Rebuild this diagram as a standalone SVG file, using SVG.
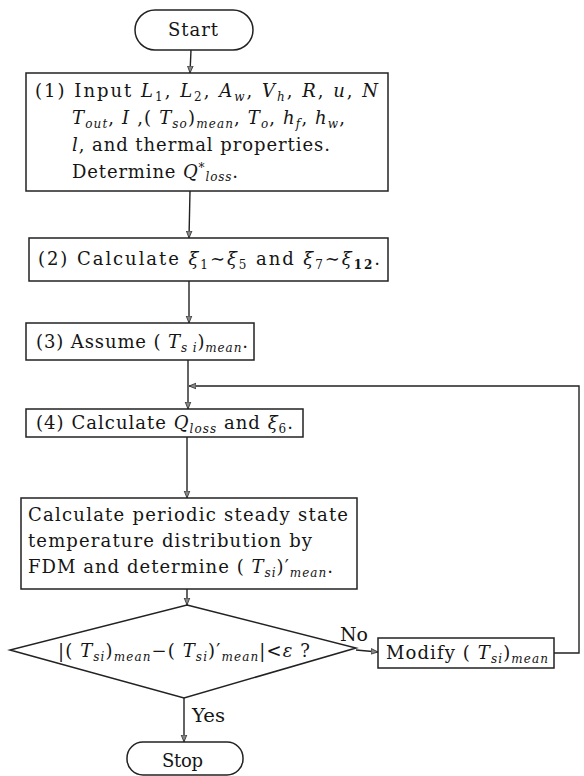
<svg xmlns="http://www.w3.org/2000/svg" width="584" height="776" viewBox="0 0 584 776" font-family="'DejaVu Serif', 'Liberation Serif', serif">
<style>
text{font-family:'DejaVu Serif','Liberation Serif',serif;font-size:18px;fill:#151515}
.i{font-style:italic}
.s{font-size:12px}
.box{fill:#fff;stroke:#222;stroke-width:1.5}
.ln{fill:none;stroke:#222;stroke-width:1.4}
</style>
<defs>
<marker id="ah" viewBox="0 0 10 10" refX="10" refY="5" markerWidth="7" markerHeight="8" orient="auto" markerUnits="userSpaceOnUse">
<path d="M0,1 L10,5 L0,9 Z" fill="#888" stroke="#333" stroke-width="1.2"/>
</marker>
</defs>
<rect width="584" height="776" fill="#fff"/>

<g id="connectors">
<line class="ln" x1="191" y1="50" x2="190" y2="73" marker-end="url(#ah)"/>
<line class="ln" x1="190" y1="191" x2="189" y2="238" marker-end="url(#ah)"/>
<line class="ln" x1="189" y1="281" x2="189" y2="323" marker-end="url(#ah)"/>
<line class="ln" x1="188" y1="360" x2="188" y2="409" marker-end="url(#ah)"/>
<line class="ln" x1="187" y1="437" x2="187" y2="498" marker-end="url(#ah)"/>
<line class="ln" x1="187" y1="589" x2="187" y2="605" marker-end="url(#ah)"/>
<line class="ln" x1="356" y1="650" x2="378" y2="652" marker-end="url(#ah)"/>
<polyline class="ln" points="554,653 579,653 579,386 189,386" marker-end="url(#ah)"/>
<line class="ln" x1="184" y1="698" x2="184" y2="742" marker-end="url(#ah)"/>
<text x="340" y="641" textLength="28" lengthAdjust="spacingAndGlyphs">No</text>
<text x="192" y="722" textLength="33" lengthAdjust="spacingAndGlyphs">Yes</text>
</g>

<g id="start">
<rect class="box" x="135" y="10" width="118" height="40" rx="20"/>
<text x="168" y="36" textLength="50" lengthAdjust="spacing">Start</text>
</g>

<g id="step1">
<rect class="box" x="26" y="73" width="362" height="118"/>
<text x="35" y="97" textLength="343" lengthAdjust="spacing">(1) Input <tspan class="i">L</tspan><tspan class="s" dy="4">1</tspan><tspan dy="-4">, </tspan><tspan class="i">L</tspan><tspan class="s" dy="4">2</tspan><tspan dy="-4">, </tspan><tspan class="i">A</tspan><tspan class="s i" dy="4">w</tspan><tspan dy="-4">, </tspan><tspan class="i">V</tspan><tspan class="s i" dy="4">h</tspan><tspan dy="-4">, </tspan><tspan class="i">R</tspan>, <tspan class="i">u</tspan>, <tspan class="i">N</tspan></text>
<text x="72" y="124" textLength="273" lengthAdjust="spacing"><tspan class="i">T</tspan><tspan class="s i" dy="4">out</tspan><tspan dy="-4">, </tspan><tspan class="i">I</tspan> ,( <tspan class="i">T</tspan><tspan class="s i" dy="4">so</tspan><tspan dy="-4">)</tspan><tspan class="s i" dy="4">mean</tspan><tspan dy="-4">, </tspan><tspan class="i">T</tspan><tspan class="s i" dy="4">o</tspan><tspan dy="-4">, </tspan><tspan class="i">h</tspan><tspan class="s i" dy="4">f</tspan><tspan dy="-4">, </tspan><tspan class="i">h</tspan><tspan class="s i" dy="4">w</tspan><tspan dy="-4">,</tspan></text>
<text x="72" y="151" textLength="258" lengthAdjust="spacing"><tspan class="i">l</tspan>, and thermal properties.</text>
<text x="72" y="178" textLength="166" lengthAdjust="spacing">Determine <tspan class="i">Q</tspan><tspan class="s" dy="-6">*</tspan><tspan class="s i" dy="9">loss</tspan><tspan dy="-3">.</tspan></text>
</g>

<g id="step2">
<rect class="box" x="29" y="238" width="359" height="43"/>
<text x="38" y="265" textLength="342" lengthAdjust="spacing">(2) Calculate <tspan class="i">ξ</tspan><tspan class="s" dy="4">1</tspan><tspan dy="-4">∼</tspan><tspan class="i">ξ</tspan><tspan class="s" dy="4">5</tspan><tspan dy="-4"> and </tspan><tspan class="i">ξ</tspan><tspan class="s" dy="4">7</tspan><tspan dy="-4">∼</tspan><tspan class="i">ξ</tspan><tspan class="s" dy="4" font-weight="bold">12</tspan><tspan dy="-4">.</tspan></text>
</g>

<g id="step3">
<rect class="box" x="26" y="323" width="228" height="37"/>
<text x="36" y="348" textLength="212" lengthAdjust="spacing">(3) Assume ( <tspan class="i">T</tspan><tspan class="s i" dy="4">s i</tspan><tspan dy="-4">)</tspan><tspan class="s i" dy="4">mean</tspan><tspan dy="-4">.</tspan></text>
</g>

<g id="step4">
<rect class="box" x="26" y="409" width="277" height="28"/>
<text x="36" y="429" textLength="257" lengthAdjust="spacing">(4) Calculate <tspan class="i">Q</tspan><tspan class="s i" dy="4">loss</tspan><tspan dy="-4"> and </tspan><tspan class="i">ξ</tspan><tspan class="s" dy="4">6</tspan><tspan dy="-4">.</tspan></text>
</g>

<g id="step5">
<rect class="box" x="21" y="498" width="336" height="91"/>
<text x="28" y="521" textLength="320" lengthAdjust="spacing">Calculate periodic steady state</text>
<text x="28" y="547" textLength="284" lengthAdjust="spacing">temperature distribution by</text>
<text x="28" y="573" textLength="305" lengthAdjust="spacing">FDM and determine ( <tspan class="i">T</tspan><tspan class="s i" dy="4">si</tspan><tspan dy="-4">)′</tspan><tspan class="s i" dy="4">mean</tspan><tspan dy="-4">.</tspan></text>
</g>

<g id="decision">
<polygon class="box" points="187,605 356,648 184,698 10,650"/>
<text x="58" y="657" textLength="252" lengthAdjust="spacing">|( <tspan class="i">T</tspan><tspan class="s i" dy="4">si</tspan><tspan dy="-4">)</tspan><tspan class="s i" dy="4">mean</tspan><tspan dy="-4">−( </tspan><tspan class="i">T</tspan><tspan class="s i" dy="4">si</tspan><tspan dy="-4">)′</tspan><tspan class="s i" dy="4">mean</tspan><tspan dy="-4">|&lt;</tspan><tspan class="i">ε</tspan> ?</text>
</g>

<g id="modify">
<rect class="box" x="378" y="638" width="176" height="30"/>
<text x="386" y="659" textLength="162" lengthAdjust="spacing">Modify ( <tspan class="i">T</tspan><tspan class="s i" dy="4">si</tspan><tspan dy="-4">)</tspan><tspan class="s i" dy="4">mean</tspan></text>
</g>

<g id="stop">
<rect class="box" x="127" y="742" width="116" height="33" rx="16"/>
<text x="162" y="767" textLength="41" lengthAdjust="spacing">Stop</text>
</g>
</svg>
